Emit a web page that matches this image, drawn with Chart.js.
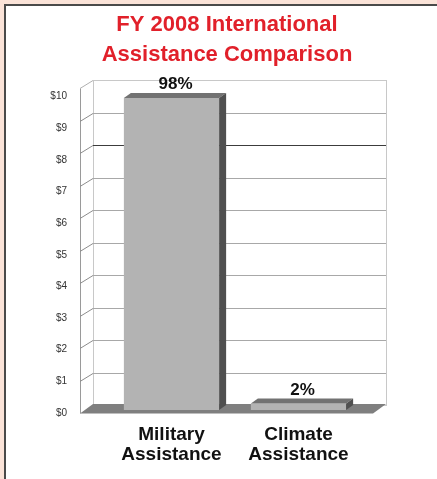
<!DOCTYPE html>
<html>
<head>
<meta charset="utf-8">
<script src="https://cdn.jsdelivr.net/npm/chart.js@4/dist/chart.umd.min.js"></script>
<style>
html, body { margin: 0; padding: 0; background: #fbe3d8; overflow: hidden; width: 437px; height: 479px; }
#frame { position: absolute; left: 4px; top: 4px; width: 600px; height: 600px; background: #fff;
         border-left: 2px solid #4a4a4a; border-top: 2px solid #4a4a4a; }
#wrap { position: absolute; left: 0; top: 0; width: 437px; height: 479px; }
</style>
</head>
<body>
<div id="frame"></div>
<div id="wrap"><canvas id="mycanvas"></canvas></div>
<script>
// FY 2008 assistance, billions of dollars
var categories = [['Military', 'Assistance'], ['Climate', 'Assistance']];
var spending = [9.6, 0.2];
var shareLabels = ['98%', '2%'];
var yTickLabels = ['$0', '$1', '$2', '$3', '$4', '$5', '$6', '$7', '$8', '$9', '$10'];

// 3d offsets (pixels)
var DX = 8, DY = 5;     // bar plane -> back wall
var WX = 13, WY = 8;    // back wall -> front edge
var BX = 7, BY = 5;     // bar depth

function poly(ctx, pts) {
    ctx.beginPath();
    ctx.moveTo(pts[0][0], pts[0][1]);
    for (var i = 1; i < pts.length; i++) ctx.lineTo(pts[i][0], pts[i][1]);
    ctx.closePath();
    ctx.fill();
}
function seg(ctx, x0, y0, x1, y1) {
    ctx.beginPath();
    ctx.moveTo(x0, y0);
    ctx.lineTo(x1, y1);
    ctx.stroke();
}

var box3d = {
    id: 'box3d',
    beforeDatasetsDraw: function(chart) {
        var ctx = chart.ctx, area = chart.chartArea, y = chart.scales.y;
        var left = area.left - 15, right = area.right + 24;
        var top = Math.round(y.getPixelForValue(y.max) - DY) + 0.5;
        var bottom = Math.round(y.getPixelForValue(0) - DY) + 0.5;
        ctx.save();
        ctx.lineWidth = 1;
        // back wall
        ctx.strokeStyle = '#c8c8c8';
        ctx.strokeRect(left + 0.5, top, right - left, bottom - top);
        // side wall
        ctx.strokeStyle = '#9a9a9a';
        seg(ctx, left - WX + 0.5, top + WY, left - WX + 0.5, bottom + WY);
        ctx.strokeStyle = '#b0b0b0';
        seg(ctx, left - WX, top + WY, left, top);
        for (var v = 1; v < yTickLabels.length - 1; v++) {
            var gy = Math.round(y.getPixelForValue(v) - DY) + 0.5;
            ctx.strokeStyle = v === 8 ? '#3c3c3c' : '#a8a8a8';
            seg(ctx, left, gy, right, gy);
            ctx.strokeStyle = '#8c8c8c';
            seg(ctx, left - WX, gy + WY, left, gy);
        }
        // floor
        ctx.fillStyle = '#7f7f7f';
        poly(ctx, [[left, bottom - 1.5], [right, bottom - 1.5], [right - WX, bottom + WY], [left - WX, bottom + WY]]);
        ctx.restore();
    },
    afterDatasetsDraw: function(chart) {
        var ctx = chart.ctx;
        var meta = chart.getDatasetMeta(0);
        ctx.save();
        meta.data.forEach(function(bar, i) {
            var p = bar.getProps(['x', 'y', 'base', 'width'], true);
            var x0 = p.x - p.width / 2, x1 = p.x + p.width / 2;
            ctx.fillStyle = '#727272';
            poly(ctx, [[x0, p.y], [x0 + BX, p.y - BY], [x1 + BX, p.y - BY], [x1, p.y]]);
            ctx.fillStyle = '#505050';
            poly(ctx, [[x1, p.y], [x1 + BX, p.y - BY], [x1 + BX, p.base - BY], [x1, p.base]]);
            ctx.fillStyle = '#111';
            ctx.font = 'bold 17px "Liberation Sans", Arial, sans-serif';
            ctx.textAlign = 'center';
            ctx.textBaseline = 'alphabetic';
            ctx.fillText(shareLabels[i], p.x + 4, p.y - BY - 4);
        });
        ctx.restore();
    }
};

var ctx = document.getElementById('mycanvas');
var chart = new Chart(ctx, {
    type: 'bar',
    data: {
        labels: categories,
        datasets: [{
            data: spending,
            backgroundColor: '#b3b3b3',
            borderWidth: 0,
            barPercentage: 0.75,
            categoryPercentage: 1
        }]
    },
    options: {
        responsive: true,
        maintainAspectRatio: false,
        animation: false,
        layout: { padding: { top: 10, left: 48, right: 31, bottom: 0 } },
        plugins: {
            legend: { display: false },
            tooltip: { enabled: false },
            title: {
                display: true,
                text: ['FY 2008 International', 'Assistance Comparison'],
                color: '#e1202a',
                font: { family: '"Liberation Sans", Arial, sans-serif', size: 22, weight: 'bold', lineHeight: '30px' },
                padding: { top: 0, bottom: 15 }
            }
        },
        scales: {
            x: {
                grid: { display: false, drawTicks: false },
                border: { display: false },
                ticks: {
                    color: '#111',
                    padding: 15,
                    font: { family: '"Liberation Sans", Arial, sans-serif', size: 19, weight: 'bold', lineHeight: 1.05 }
                },
                afterFit: function(s) { s.height = 69; }
            },
            y: {
                position: 'right',
                min: 0,
                max: 10,
                grid: { display: false, drawTicks: false },
                border: { display: false },
                ticks: { display: false },
                afterFit: function(s) { s.width = 44; }
            },
            yt: {
                position: 'left',
                min: 0.0948,
                max: 10.364,
                grid: { display: false, drawTicks: false },
                border: { display: false },
                afterBuildTicks: function(s) {
                    s.ticks = yTickLabels.map(function(t, i) { return { value: i }; });
                },
                ticks: {
                    autoSkip: false,
                    padding: 41,
                    color: '#333',
                    font: { family: '"Liberation Sans", Arial, sans-serif', size: 10 },
                    callback: function(value) { return yTickLabels[Math.round(value)]; }
                },
                afterFit: function(s) { s.width = 60; }
            }
        }
    },
    plugins: [box3d]
});
</script>
</body>
</html>
